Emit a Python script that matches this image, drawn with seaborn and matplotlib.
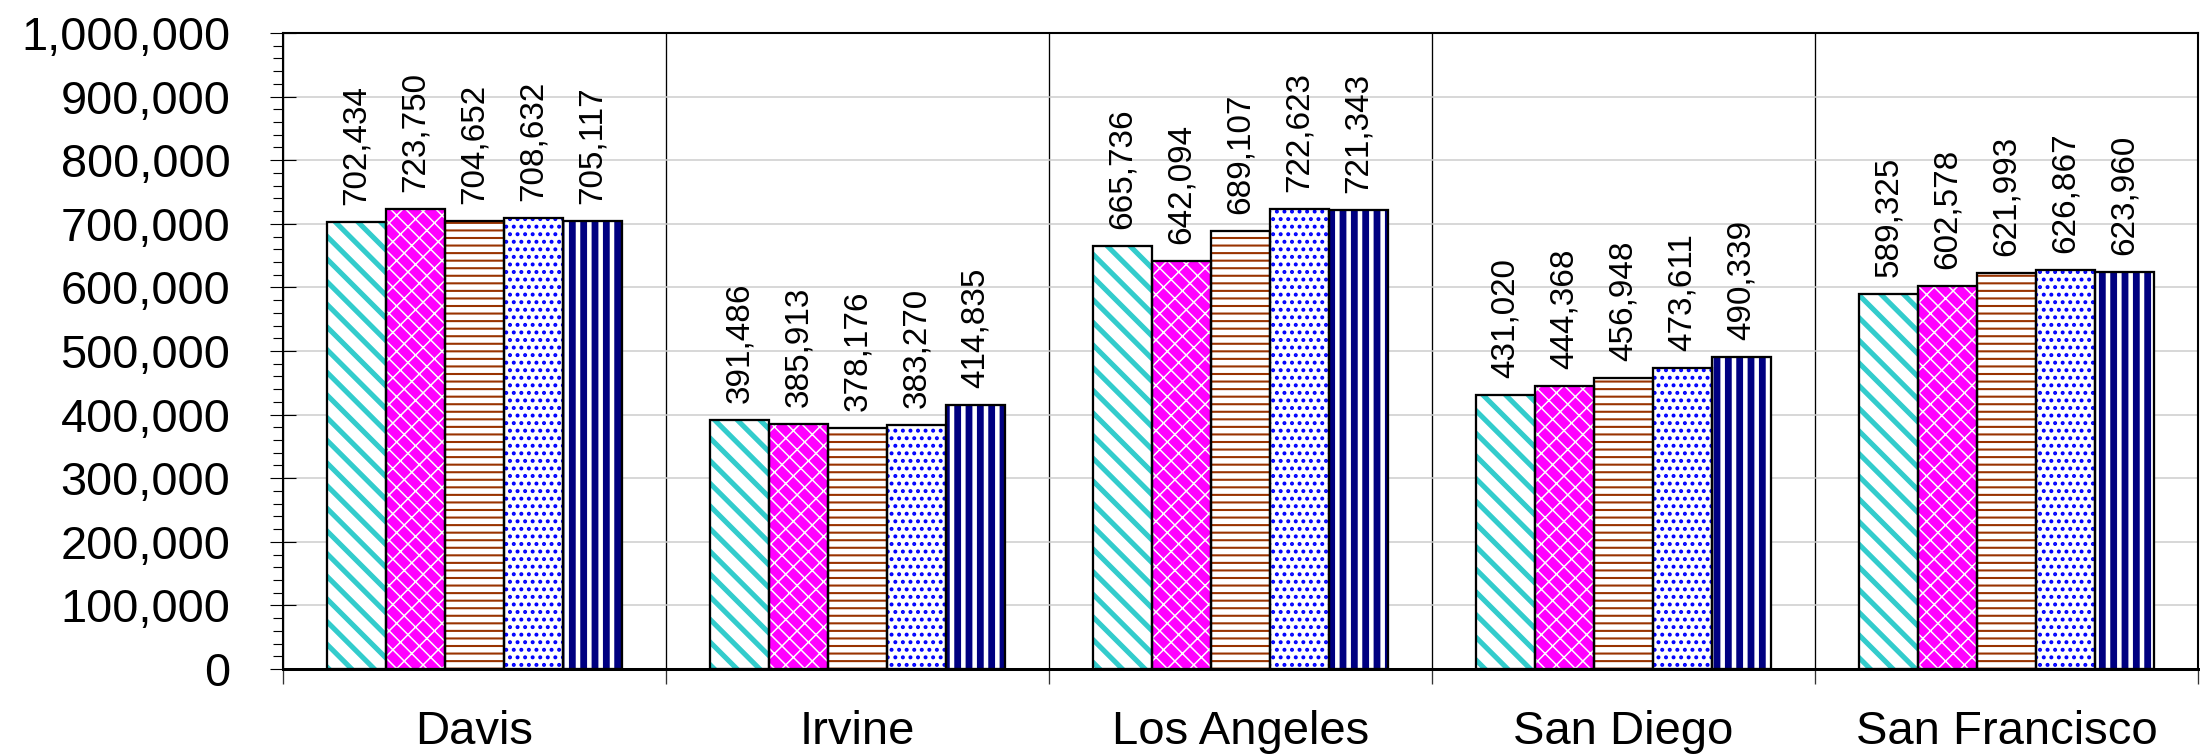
import matplotlib
matplotlib.use("Agg")
import matplotlib.pyplot as plt
import pandas as pd
import seaborn as sns
from matplotlib.patches import Rectangle
from matplotlib.ticker import MultipleLocator, FixedLocator, FuncFormatter

# ---- data -------------------------------------------------------------
campuses = ["Davis", "Irvine", "Los Angeles", "San Diego", "San Francisco"]
series_names = ["Series 1", "Series 2", "Series 3", "Series 4", "Series 5"]
series_1 = [702434, 391486, 665736, 431020, 589325]
series_2 = [723750, 385913, 642094, 444368, 602578]
series_3 = [704652, 378176, 689107, 456948, 621993]
series_4 = [708632, 383270, 722623, 473611, 626867]
series_5 = [705117, 414835, 721343, 490339, 623960]
y_max = 1_000_000
y_step = 100_000

all_series = [series_1, series_2, series_3, series_4, series_5]
df = pd.DataFrame(
    [(c, name, v)
     for name, vals in zip(series_names, all_series)
     for c, v in zip(campuses, vals)],
    columns=["campus", "series", "value"],
)

# ---- bar fill styles: face colour, hatch, hatch colour, hatch width ----
face_colors = ["white", "#FF00FF", "white", "white", "white"]
hatches = ["\\\\", "\\\\\\//", "---", "...", "||"]
hatch_colors = ["#33CCCC", "white", "#993300", "#0000FF", "#000080"]
hatch_widths = [2.7, 0.8, 1.1, 1.3, 3.6]

DPI = 136
sns.set_style("white")
plt.rcParams["font.family"] = ["Liberation Sans", "DejaVu Sans"]
plt.rcParams["text.color"] = "black"
plt.rcParams["xtick.color"] = "black"
plt.rcParams["ytick.color"] = "black"

fig = plt.figure(figsize=(2200 / DPI, 755 / DPI), dpi=DPI)
ax = fig.add_axes([283 / 2200, 86 / 755, 1915 / 2200, 636 / 755])

sns.barplot(
    data=df, x="campus", y="value", hue="series",
    order=campuses, hue_order=series_names,
    palette=face_colors, saturation=1, width=0.77,
    errorbar=None, legend=False, linewidth=0, ax=ax,
)

# hatch each series in its own colour, then outline every bar in black
for i, cont in enumerate(ax.containers):
    for p in cont:
        p.set_hatch(hatches[i])
        p.set_edgecolor(hatch_colors[i])
        p.set_linewidth(0)
        p.set_hatch_linewidth(hatch_widths[i])
        ax.add_patch(Rectangle(p.get_xy(), p.get_width(), p.get_height(),
                               fill=False, edgecolor="black", linewidth=1.2,
                               zorder=3))
    ax.bar_label(cont, fmt="{:,.0f}", rotation=90, padding=9,
                 fontsize=17.6, color="black")

# ---- axes styling -----------------------------------------------------
ax.set_xlabel("")
ax.set_ylabel("")
ax.set_ylim(0, y_max)
ax.set_xlim(-0.5, len(campuses) - 0.5)

ax.yaxis.set_major_locator(MultipleLocator(y_step))
ax.yaxis.set_minor_locator(MultipleLocator(y_step / 5))
ax.yaxis.set_major_formatter(FuncFormatter(lambda v, _: f"{v:,.0f}"))
ax.tick_params(axis="y", which="major", direction="inout", length=13.8,
               width=0.6, color="black", labelcolor="black", labelsize=24.8,
               pad=21, left=True)
ax.tick_params(axis="y", which="minor", direction="out", length=5.3,
               width=0.6, color="black", left=True)

ax.xaxis.set_major_locator(FixedLocator(range(len(campuses))))
ax.set_xticklabels(campuses)
ax.xaxis.set_minor_locator(FixedLocator([k - 0.5 for k in range(len(campuses) + 1)]))
ax.tick_params(axis="x", which="major", length=0, labelsize=25,
               labelcolor="black", pad=21.5)
ax.tick_params(axis="x", which="minor", direction="out", length=8,
               width=0.7, color="#333333", bottom=True)

ax.set_axisbelow(True)
ax.yaxis.grid(True, which="major", color="#cccccc", linewidth=0.8)
ax.xaxis.grid(False, which="major")
ax.xaxis.grid(True, which="minor", color="black", linewidth=0.7)

for side, spine in ax.spines.items():
    spine.set_visible(True)
    spine.set_color("black")
    spine.set_linewidth(1.1)
ax.spines["bottom"].set_linewidth(1.6)

fig.savefig("out.png", dpi=DPI)
